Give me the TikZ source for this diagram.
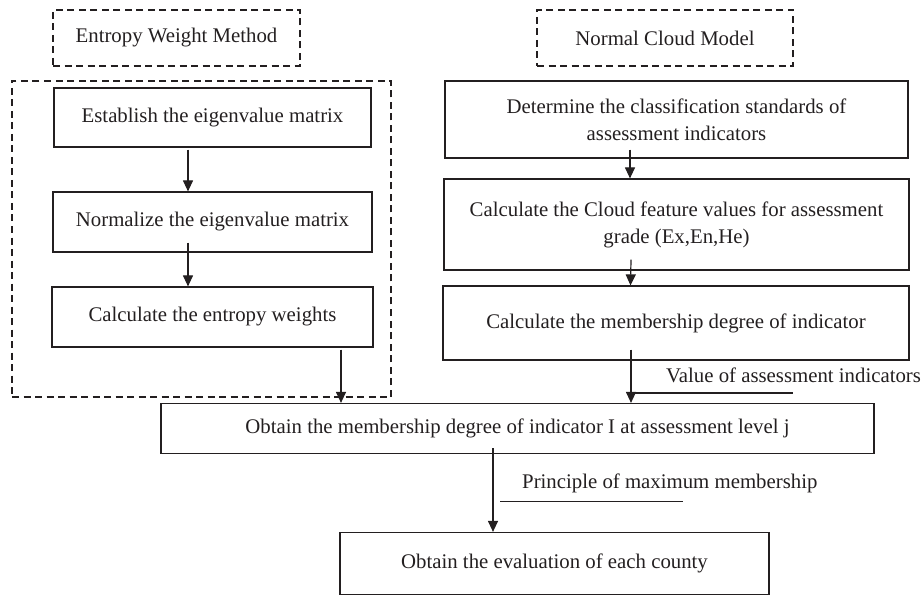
\documentclass[tikz,border=0pt]{standalone}
\usepackage{fontspec}
\setmainfont{Liberation Serif}
\usetikzlibrary{arrows.meta,calc}
\definecolor{ink}{RGB}{35,31,32}
\begin{document}
\begin{tikzpicture}[x=1pt,y=-1pt,
  every node/.style={font=\fontsize{20.8}{27}\selectfont, text=ink},
  box/.style={draw=ink, line width=1.2pt, inner sep=0pt, align=center},
  dbox/.style={draw=ink, line width=1.2pt, dash pattern=on 7pt off 4.5pt, inner sep=0pt, align=center},
  arr/.style={draw=ink, line width=1.2pt, -{Triangle[length=11pt,width=10pt]}},
  ln/.style={draw=ink, line width=1.2pt}]
\useasboundingbox (0,0) rectangle (924,596);
% headers
\node[dbox, minimum width=247pt, minimum height=56pt] (ewm) at (176.5,38) {Entropy Weight Method};
\node[dbox, minimum width=256pt, minimum height=56pt] (ncm) at (665,38) {Normal Cloud Model};
% left frame
\node[dbox, minimum width=379pt, minimum height=316pt] (frame) at (201.5,239) {};
% left boxes
\node[box, minimum width=317pt, minimum height=59pt] (est) at (212.5,117.5) {Establish the eigenvalue matrix};
\node[box, minimum width=319pt, minimum height=60pt] (norm) at (212.5,222) {Normalize the eigenvalue matrix};
\node[box, minimum width=321pt, minimum height=60pt] (ent) at (212.5,317) {Calculate the entropy weights};
% right boxes
\node[box, minimum width=463pt, minimum height=77pt] (det) at (676.5,119.5) {Determine the classification standards of\\assessment indicators};
\node[box, minimum width=465pt, minimum height=91pt] (cloud) at (676.5,224.5) {Calculate the Cloud feature values for assessment\\grade (Ex,En,He)};
\node[box, minimum width=466pt, minimum height=74pt] (memb) at (676,323) {Calculate the membership degree of indicator};
% bottom boxes
\node[box, minimum width=713pt, minimum height=50pt] (obt) at (517.5,428.5) {Obtain the membership degree of indicator I at assessment level j};
\node[box, minimum width=429pt, minimum height=62pt] (eval) at (554.5,563.5) {Obtain the evaluation of each county};
% labels
\node[anchor=base west, inner sep=0pt] (val) at (666,382) {Value of assessment indicators};
\node[anchor=base west, inner sep=0pt] (prin) at (522,488) {Principle of maximum membership};
% left connectors
\draw[arr] ([xshift=-24.5pt,yshift=-2pt]est.south) -- ([xshift=-24.5pt]norm.north);
\draw[arr] ([xshift=-24.5pt,yshift=10pt]norm.south) -- ([xshift=-24.5pt]ent.north);
\draw[arr] ([xshift=128.5pt,yshift=-2pt]ent.south) -- ([xshift=128.5pt]ent.south |- obt.north);
% right connectors
\draw[arr] ([xshift=-46.5pt,yshift=9pt]det.south) -- ([xshift=-46.5pt]cloud.north);
\draw[arr] ([xshift=-45.5pt,yshift=11pt]cloud.south) -- ([xshift=-45.5pt]memb.north);
\draw[arr] ([xshift=-45pt,yshift=11pt]memb.south) coordinate (mv) -- (mv |- obt.north);
\coordinate (vl) at (mv |- 0,393);
\draw[ln] (vl) -- ++(162,0);
% bottom connector
\draw[arr] ([xshift=-24.5pt,yshift=6pt]obt.south) coordinate (ov) -- (ov |- eval.north);
\coordinate (pl) at (500,501.5);
\draw[ln] (pl) -- ++(183,0);
\end{tikzpicture}
\end{document}
